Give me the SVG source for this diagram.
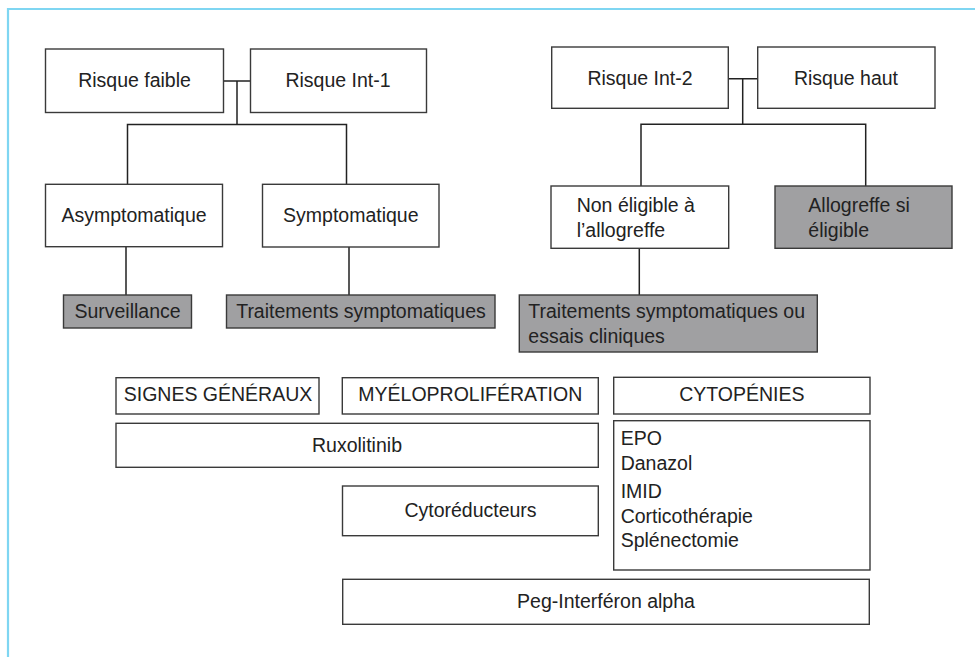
<svg xmlns="http://www.w3.org/2000/svg" width="975" height="657" viewBox="0 0 975 657">
<style>
.b{fill:#fff;stroke:#3a3a3a;stroke-width:1.4}
.g{fill:#a0a0a2;stroke:#3a3a3a;stroke-width:1.4}
.t{font-family:"Liberation Sans",Arial,sans-serif;font-size:19.5px;fill:#222}
.m{text-anchor:middle}
.c{stroke:#222;stroke-width:1.5;fill:none}
</style>
<rect width="975" height="657" fill="#fff"/>
<path d="M8,657 V9 H975" fill="none" stroke="#7fd6f2" stroke-width="2.2"/>
<g id="connectors">
<path class="c" d="M223.5,81 H250.5 M237,81 V124.5 M127.5,184.3 V124.5 H346.5 V184.3 M126,246.7 V295 M349,247 V295"/>
<path class="c" d="M728.3,78.7 H757.7 M742.7,78.7 V124.3 M641,186 V124.3 H865.7 V186 M639.3,248.3 V295"/>
</g>
<g id="risque-faible"><rect class="b" x="45.5" y="49" width="178" height="63.5"/><text class="t m" x="134.5" y="87.3">Risque faible</text></g>
<g id="risque-int1"><rect class="b" x="250.5" y="49" width="176" height="63.5"/><text class="t m" x="338" y="87.3">Risque Int-1</text></g>
<g id="risque-int2"><rect class="b" x="551.7" y="47" width="176.6" height="61.3"/><text class="t m" x="640" y="85">Risque Int-2</text></g>
<g id="risque-haut"><rect class="b" x="757.7" y="47" width="177.3" height="61.3"/><text class="t m" x="846" y="85">Risque haut</text></g>
<g id="asymptomatique"><rect class="b" x="45.5" y="184.3" width="177" height="62.4"/><text class="t m" x="134" y="221.7">Asymptomatique</text></g>
<g id="symptomatique"><rect class="b" x="262.5" y="184.3" width="176.5" height="62.7"/><text class="t m" x="350.8" y="221.7">Symptomatique</text></g>
<g id="surveillance"><rect class="g" x="63.5" y="295" width="128" height="33"/><text class="t m" x="127.5" y="317.7">Surveillance</text></g>
<g id="traitements-sympt"><rect class="g" x="226.5" y="295" width="268.5" height="33"/><text class="t m" x="361" y="317.7">Traitements symptomatiques</text></g>
<g id="non-eligible"><rect class="b" x="551" y="186" width="177.7" height="62.3"/><text class="t" x="576.7" y="211.7">Non éligible à</text><text class="t" x="576.7" y="236.7">l’allogreffe</text></g>
<g id="allogreffe"><rect class="g" x="775" y="186" width="177" height="62.3"/><text class="t" x="808.3" y="211.7">Allogreffe si</text><text class="t" x="808.3" y="236.7">éligible</text></g>
<g id="traitements-essais"><rect class="g" x="519.3" y="295" width="298" height="57"/><text class="t" x="528.3" y="318.3">Traitements symptomatiques ou</text><text class="t" x="528.3" y="343">essais cliniques</text></g>
<g id="signes-generaux"><rect class="b" x="116" y="377.7" width="203" height="36.3"/><text class="t m" x="218" y="401">SIGNES GÉNÉRAUX</text></g>
<g id="myeloproliferation"><rect class="b" x="342.3" y="377.7" width="256" height="36.3"/><text class="t m" x="470.3" y="401">MYÉLOPROLIFÉRATION</text></g>
<g id="cytopenies"><rect class="b" x="613.7" y="377.3" width="256.3" height="36.7"/><text class="t m" x="741.8" y="401">CYTOPÉNIES</text></g>
<g id="ruxolitinib"><rect class="b" x="116" y="423.3" width="482.3" height="44"/><text class="t m" x="357" y="451.7">Ruxolitinib</text></g>
<g id="cytopenies-list"><rect class="b" x="613.7" y="420.7" width="256.3" height="149.3"/>
<text class="t" x="620.7" y="445">EPO</text>
<text class="t" x="620.7" y="470">Danazol</text>
<text class="t" x="620.7" y="497.7">IMID</text>
<text class="t" x="620.7" y="522.7">Corticothérapie</text>
<text class="t" x="620.7" y="546.5">Splénectomie</text></g>
<g id="cytoreducteurs"><rect class="b" x="342.5" y="486" width="255.8" height="49.7"/><text class="t m" x="470.5" y="516.7">Cytoréducteurs</text></g>
<g id="peg-interferon"><rect class="b" x="342.7" y="579.3" width="526.6" height="45"/><text class="t m" x="606" y="608.3">Peg-Interféron alpha</text></g>
</svg>
